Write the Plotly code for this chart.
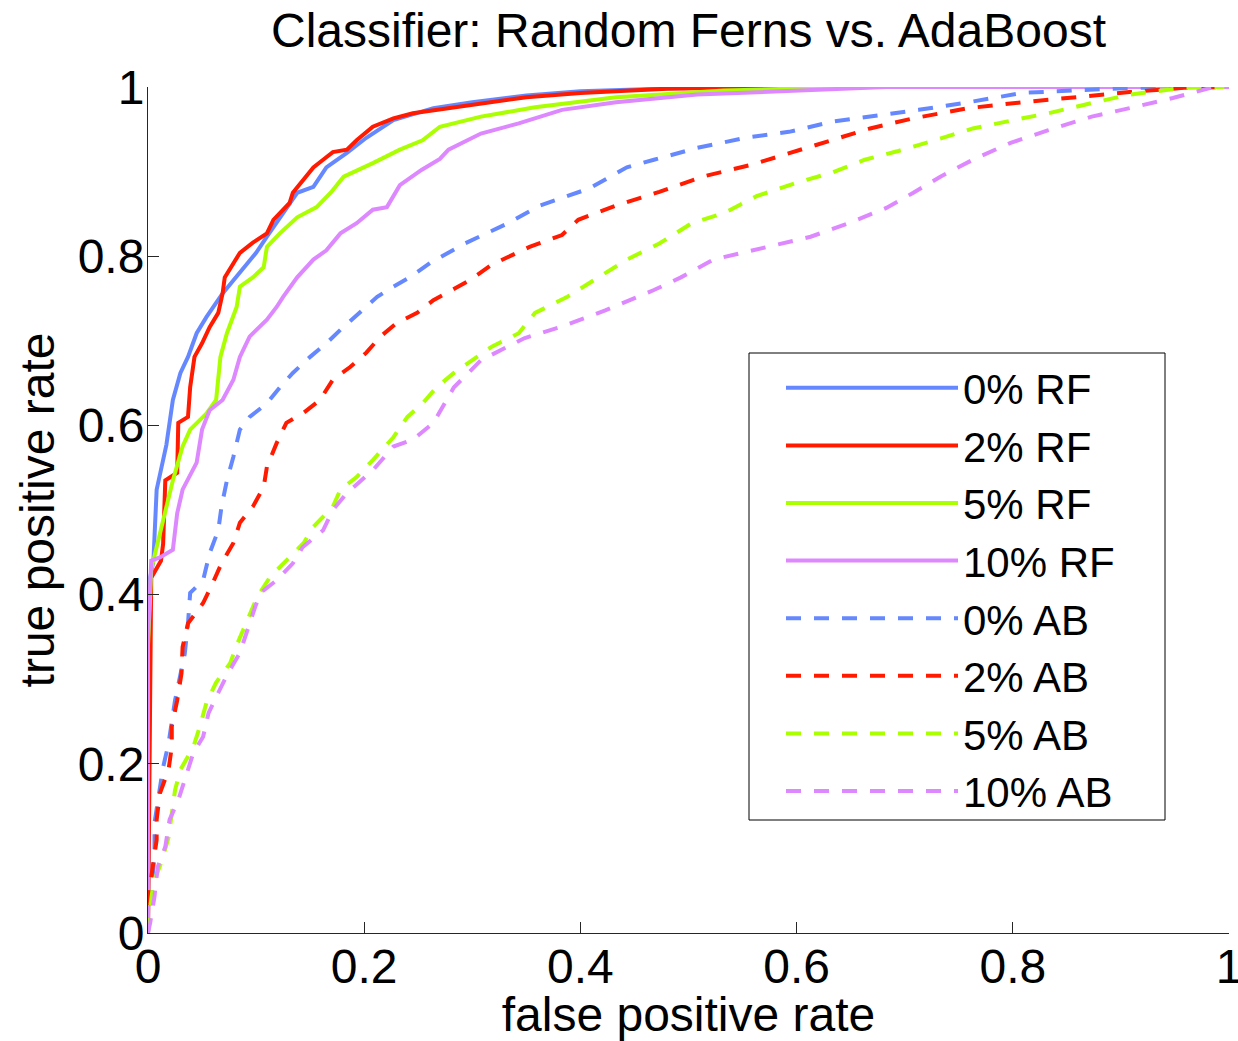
import plotly.graph_objects as go

# ---- data ----
rf0_fpr = [0, 0.002, 0.005, 0.007, 0.008, 0.017, 0.023, 0.03, 0.037, 0.045, 0.054, 0.069, 0.085, 0.10, 0.11, 0.125, 0.138, 0.153, 0.165, 0.184, 0.202, 0.227, 0.264, 0.3, 0.35, 0.4, 0.5, 0.6, 1.0]
rf0_tpr = [0, 0.42, 0.44, 0.51, 0.524, 0.577, 0.63, 0.662, 0.681, 0.709, 0.728, 0.756, 0.78, 0.804, 0.823, 0.851, 0.875, 0.882, 0.905, 0.922, 0.94, 0.961, 0.975, 0.982, 0.99, 0.995, 0.999, 1.0, 1.0]

rf2_fpr = [0, 0.002, 0.003, 0.012, 0.014, 0.016, 0.027, 0.028, 0.037, 0.039, 0.043, 0.05, 0.057, 0.065, 0.069, 0.071, 0.079, 0.085, 0.097, 0.11, 0.116, 0.122, 0.131, 0.134, 0.143, 0.153, 0.162, 0.171, 0.184, 0.193, 0.208, 0.227, 0.245, 0.267, 0.3, 0.35, 0.4, 0.48, 0.6, 1]
rf2_tpr = [0, 0.28, 0.42, 0.44, 0.46, 0.535, 0.544, 0.603, 0.61, 0.645, 0.681, 0.697, 0.716, 0.733, 0.756, 0.775, 0.792, 0.804, 0.816, 0.827, 0.843, 0.851, 0.863, 0.875, 0.89, 0.905, 0.914, 0.923, 0.926, 0.937, 0.953, 0.963, 0.969, 0.973, 0.98, 0.988, 0.993, 0.998, 1, 1]

rf5_fpr = [0, 0.0, 0.003, 0.014, 0.023, 0.032, 0.039, 0.054, 0.063, 0.067, 0.073, 0.082, 0.085, 0.097, 0.107, 0.11, 0.122, 0.138, 0.156, 0.169, 0.181, 0.208, 0.233, 0.254, 0.27, 0.308, 0.358, 0.433, 0.533, 0.658, 1]
rf5_tpr = [0, 0.34, 0.43, 0.488, 0.535, 0.575, 0.595, 0.614, 0.63, 0.681, 0.709, 0.74, 0.764, 0.775, 0.787, 0.811, 0.827, 0.846, 0.858, 0.875, 0.894, 0.91, 0.926, 0.937, 0.953, 0.965, 0.976, 0.988, 0.996, 1, 1]

rf10_fpr = [0, 0, 0.003, 0.011, 0.023, 0.027, 0.032, 0.045, 0.05, 0.057, 0.069, 0.079, 0.085, 0.094, 0.11, 0.119, 0.125, 0.138, 0.153, 0.165, 0.178, 0.193, 0.208, 0.221, 0.233, 0.253, 0.27, 0.278, 0.308, 0.343, 0.383, 0.433, 0.508, 0.608, 0.683, 1]
rf10_tpr = [0, 0.35, 0.44, 0.444, 0.453, 0.496, 0.524, 0.556, 0.595, 0.618, 0.63, 0.654, 0.681, 0.705, 0.725, 0.74, 0.752, 0.775, 0.796, 0.807, 0.827, 0.839, 0.855, 0.858, 0.884, 0.902, 0.915, 0.926, 0.945, 0.957, 0.973, 0.982, 0.991, 0.996, 1, 1]

ab0_fpr = [0, 0.003, 0.006, 0.006, 0.014, 0.019, 0.022, 0.025, 0.034, 0.037, 0.039, 0.051, 0.057, 0.065, 0.068, 0.073, 0.079, 0.085, 0.094, 0.11, 0.122, 0.134, 0.15, 0.165, 0.178, 0.196, 0.212, 0.227, 0.242, 0.261, 0.293, 0.333, 0.363, 0.408, 0.443, 0.468, 0.508, 0.553, 0.593, 0.633, 0.668, 0.713, 0.759, 0.809, 0.858, 0.908, 1]
ab0_tpr = [0, 0.05, 0.094, 0.13, 0.196, 0.224, 0.252, 0.275, 0.33, 0.366, 0.402, 0.417, 0.449, 0.476, 0.504, 0.535, 0.563, 0.595, 0.61, 0.626, 0.645, 0.662, 0.681, 0.697, 0.713, 0.733, 0.752, 0.764, 0.775, 0.792, 0.815, 0.839, 0.86, 0.88, 0.905, 0.914, 0.928, 0.94, 0.947, 0.959, 0.965, 0.973, 0.982, 0.993, 0.996, 0.999, 1]

ab2_fpr = [0, 0, 0.003, 0.008, 0.008, 0.011, 0.019, 0.022, 0.022, 0.027, 0.031, 0.032, 0.037, 0.051, 0.06, 0.068, 0.079, 0.085, 0.097, 0.107, 0.11, 0.119, 0.128, 0.144, 0.159, 0.171, 0.187, 0.202, 0.215, 0.23, 0.249, 0.264, 0.298, 0.318, 0.353, 0.383, 0.398, 0.433, 0.473, 0.513, 0.558, 0.593, 0.633, 0.668, 0.708, 0.759, 0.809, 0.858, 0.908, 0.958, 1]
ab2_tpr = [0, 0.039, 0.066, 0.11, 0.134, 0.165, 0.193, 0.22, 0.244, 0.275, 0.307, 0.338, 0.366, 0.39, 0.414, 0.437, 0.461, 0.485, 0.504, 0.527, 0.551, 0.579, 0.603, 0.615, 0.63, 0.654, 0.669, 0.686, 0.705, 0.721, 0.733, 0.748, 0.772, 0.79, 0.811, 0.825, 0.843, 0.86, 0.876, 0.894, 0.908, 0.922, 0.937, 0.951, 0.963, 0.975, 0.982, 0.988, 0.994, 0.999, 1]

ab5_fpr = [0, 0.002, 0.005, 0.013, 0.019, 0.022, 0.025, 0.03, 0.042, 0.048, 0.054, 0.063, 0.076, 0.083, 0.091, 0.101, 0.113, 0.128, 0.144, 0.153, 0.171, 0.178, 0.193, 0.208, 0.227, 0.24, 0.254, 0.267, 0.283, 0.318, 0.343, 0.358, 0.388, 0.413, 0.443, 0.473, 0.503, 0.533, 0.563, 0.598, 0.633, 0.663, 0.693, 0.728, 0.763, 0.809, 0.833, 0.873, 0.908, 0.958, 1]
ab5_tpr = [0, 0.03, 0.059, 0.086, 0.113, 0.142, 0.169, 0.193, 0.22, 0.244, 0.272, 0.296, 0.319, 0.343, 0.366, 0.397, 0.421, 0.441, 0.461, 0.48, 0.504, 0.524, 0.539, 0.559, 0.586, 0.61, 0.626, 0.645, 0.662, 0.693, 0.709, 0.733, 0.752, 0.772, 0.796, 0.815, 0.839, 0.851, 0.871, 0.886, 0.899, 0.914, 0.924, 0.937, 0.951, 0.963, 0.969, 0.981, 0.991, 0.999, 1]

ab10_fpr = [0, 0.002, 0.006, 0.009, 0.016, 0.02, 0.028, 0.034, 0.042, 0.051, 0.056, 0.065, 0.074, 0.085, 0.091, 0.099, 0.104, 0.119, 0.134, 0.143, 0.162, 0.171, 0.184, 0.208, 0.227, 0.245, 0.264, 0.283, 0.308, 0.348, 0.383, 0.423, 0.468, 0.493, 0.523, 0.574, 0.613, 0.648, 0.683, 0.708, 0.733, 0.763, 0.798, 0.833, 0.873, 0.908, 0.948, 0.983, 1]
ab10_tpr = [0, 0.012, 0.043, 0.078, 0.102, 0.134, 0.157, 0.181, 0.213, 0.232, 0.26, 0.284, 0.307, 0.331, 0.355, 0.385, 0.402, 0.417, 0.437, 0.456, 0.476, 0.5, 0.52, 0.547, 0.575, 0.583, 0.603, 0.645, 0.677, 0.703, 0.717, 0.736, 0.76, 0.775, 0.796, 0.811, 0.823, 0.839, 0.857, 0.875, 0.894, 0.914, 0.934, 0.949, 0.965, 0.975, 0.987, 0.999, 1]

series_names = ["0% RF", "2% RF", "5% RF", "10% RF", "0% AB", "2% AB", "5% AB", "10% AB"]
series_x = [rf0_fpr, rf2_fpr, rf5_fpr, rf10_fpr, ab0_fpr, ab2_fpr, ab5_fpr, ab10_fpr]
series_y = [rf0_tpr, rf2_tpr, rf5_tpr, rf10_tpr, ab0_tpr, ab2_tpr, ab5_tpr, ab10_tpr]
colors = ["#6688ff", "#ff1a00", "#aaff00", "#dd88ff"] * 2
dashes = ["solid"] * 4 + ["15px,13px"] * 4

FONT = "Liberation Sans, Arial, Helvetica, sans-serif"

# plot-area geometry in pixels
W, H = 1238, 1041
L, R, T, B = 148, 1229, 87, 933


def px_x(p):
    return (p - L) / (R - L)


def px_y(p):
    return (B - p) / (B - T)


fig = go.Figure()
for name, xs, ys, c, d in zip(series_names, series_x, series_y, colors, dashes):
    fig.add_trace(go.Scatter(x=xs, y=ys, mode="lines", name=name,
                             line=dict(color=c, width=4, dash=d)))

axis_common = dict(range=[0, 1], showgrid=False, zeroline=False, showline=True,
                   linecolor="#262626", linewidth=1, ticks="inside", ticklen=11,
                   tickcolor="#262626", tickwidth=1, mirror=False,
                   tickvals=[0, 0.2, 0.4, 0.6, 0.8, 1],
                   ticktext=["0", "0.2", "0.4", "0.6", "0.8", "1"],
                   ticklabeloverflow="allow",
                   tickfont=dict(size=48, color="black", family=FONT))

fig.update_layout(
    width=W, height=H,
    margin=dict(l=L, r=W - R, t=T, b=H - B, autoexpand=False),
    paper_bgcolor="white", plot_bgcolor="white",
    font=dict(family=FONT, color="black"),
    title=dict(text="Classifier: Random Ferns vs. AdaBoost", x=((L + R) / 2 / W), xanchor="center",
               y=1 - 30 / H, yanchor="middle", yref="container",
               font=dict(size=48, family=FONT, color="black")),
    xaxis=dict(axis_common, ticklabelstandoff=-9,
               title=dict(text="false positive rate", font=dict(size=48), standoff=10)),
    yaxis=dict(axis_common, ticklabelstandoff=-7,
               title=dict(text="true positive rate", font=dict(size=48), standoff=7)),
    legend=dict(x=px_x(781), y=px_y(354), xanchor="left", yanchor="top",
                borderwidth=0, bgcolor="rgba(0,0,0,0)",
                font=dict(size=42, family=FONT, color="black"),
                itemwidth=172, tracegroupgap=0),
    shapes=[dict(type="rect", xref="paper", yref="paper",
                 x0=px_x(749), x1=px_x(1165), y0=px_y(820), y1=px_y(353),
                 line=dict(color="black", width=1), fillcolor="white", layer="above")],
)

fig.write_html("out.html", config={"displayModeBar": False},
               post_script="document.body.style.margin='0px';")
